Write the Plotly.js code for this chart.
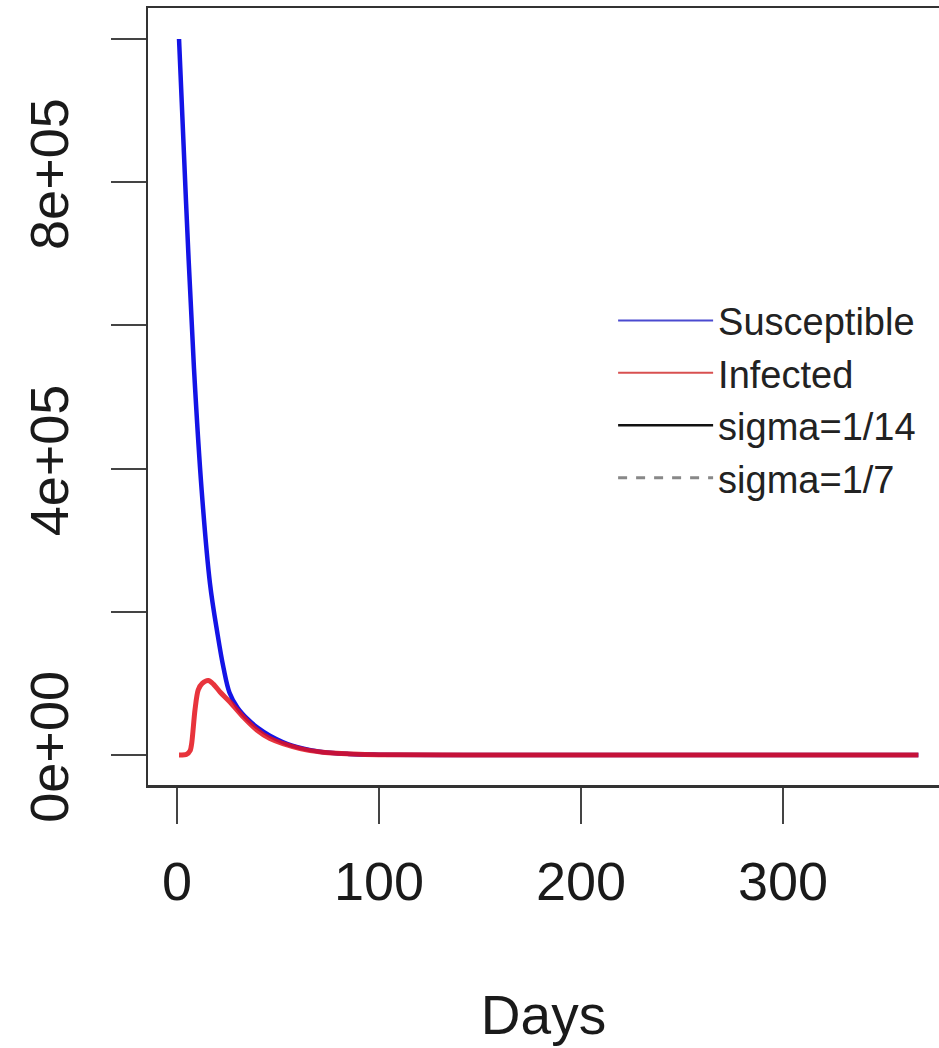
<!DOCTYPE html>
<html>
<head>
<meta charset="utf-8">
<script src="https://cdn.plot.ly/plotly-3.0.1.min.js"></script>
<style>
  html, body { margin: 0; padding: 0; background: #ffffff; }
  #chart { width: 939px; height: 1048px; }
</style>
</head>
<body>
<div id="chart"></div>
<script>
// Susceptible
const susDays = [1, 4.5, 8.4, 12.2, 16.3, 20, 23, 26, 30, 35, 40, 46, 57, 70, 85, 100, 130, 200, 367];
const susVals = [1000000, 770000, 540000, 370000, 240000, 170000, 122000, 87000, 66000, 50000, 38000, 27000, 13000, 5000, 1500, 450, 50, 0, 0];

// Infected
const infDays = [1, 4.8, 6.5, 7.3, 8.9, 10.5, 12.5, 15.5, 18, 21.3, 26.2, 32.8, 39.5, 46, 61, 72, 90, 110, 150, 367];
const infVals = [0, 1000, 6000, 17000, 63000, 91000, 100000, 104000, 99000, 88000, 74000, 53000, 35000, 23000, 9000, 4000, 1200, 300, 0, 0];

// Axis ticks
const xTickVals = [0, 100, 200, 300];
const xTickText = ['0', '100', '200', '300'];
const yTickVals = [0, 200000, 400000, 600000, 800000, 1000000];
const yTickText = ['0e+00', '', '4e+05', '', '8e+05', ''];

// Legend entries
const legendNames = ['Susceptible', 'Infected', 'sigma=1/14', 'sigma=1/7'];

const traces = [
  { x: susDays, y: susVals, type: 'scatter', mode: 'lines', showlegend: false,
    line: { color: '#1414e6', width: 4.5, shape: 'spline', smoothing: 1 }, hoverinfo: 'skip' },
  { x: infDays, y: infVals, type: 'scatter', mode: 'lines', showlegend: false, opacity: 0.85,
    line: { color: '#e4101a', width: 5, shape: 'spline', smoothing: 0.8 }, hoverinfo: 'skip' },
  { x: [null], y: [null], type: 'scatter', mode: 'lines', name: legendNames[0],
    line: { color: '#4a4ad0', width: 2 } },
  { x: [null], y: [null], type: 'scatter', mode: 'lines', name: legendNames[1],
    line: { color: '#d85050', width: 2 } },
  { x: [null], y: [null], type: 'scatter', mode: 'lines', name: legendNames[2],
    line: { color: '#111111', width: 2.5 } },
  { x: [null], y: [null], type: 'scatter', mode: 'lines', name: legendNames[3],
    line: { color: '#888888', width: 3, dash: 'dash' } }
];

const layout = {
  width: 939, height: 1048,
  margin: { l: 148, r: 0, t: 8, b: 263 },
  paper_bgcolor: '#ffffff', plot_bgcolor: '#ffffff',
  font: { family: 'Liberation Sans, Arial, sans-serif', color: '#1a1a1a' },
  showlegend: true,
  legend: {
    x: 0.588, xanchor: 'left', y: 0.638, yanchor: 'top',
    bgcolor: 'rgba(0,0,0,0)', borderwidth: 0,
    font: { size: 38, color: '#222222' },
    itemwidth: 95, tracegroupgap: 0
  },
  xaxis: {
    range: [-14.36, 377.2], autorange: false,
    tickmode: 'array', tickvals: xTickVals, ticktext: xTickText,
    ticks: 'outside', ticklen: 36, tickwidth: 2, tickcolor: '#444444',
    showline: true, linecolor: '#333333', linewidth: 2.5, mirror: true,
    showgrid: false, zeroline: false,
    tickfont: { size: 54, color: '#1a1a1a' },
    ticklabelstandoff: 12,
    title: { text: 'Days', font: { size: 55, color: '#1a1a1a' }, standoff: 85 }
  },
  yaxis: {
    range: [-41900, 1043300], autorange: false,
    tickmode: 'array', tickvals: yTickVals, ticktext: yTickText,
    ticks: 'outside', ticklen: 35, tickwidth: 2, tickcolor: '#444444',
    showline: true, linecolor: '#333333', linewidth: 2.5, mirror: false,
    showgrid: false, zeroline: false,
    tickangle: -90,
    tickfont: { size: 54, color: '#1a1a1a' },
    ticklabelstandoff: 21
  }
};

Plotly.newPlot('chart', traces, layout, { displayModeBar: false, staticPlot: true });
</script>
</body>
</html>
